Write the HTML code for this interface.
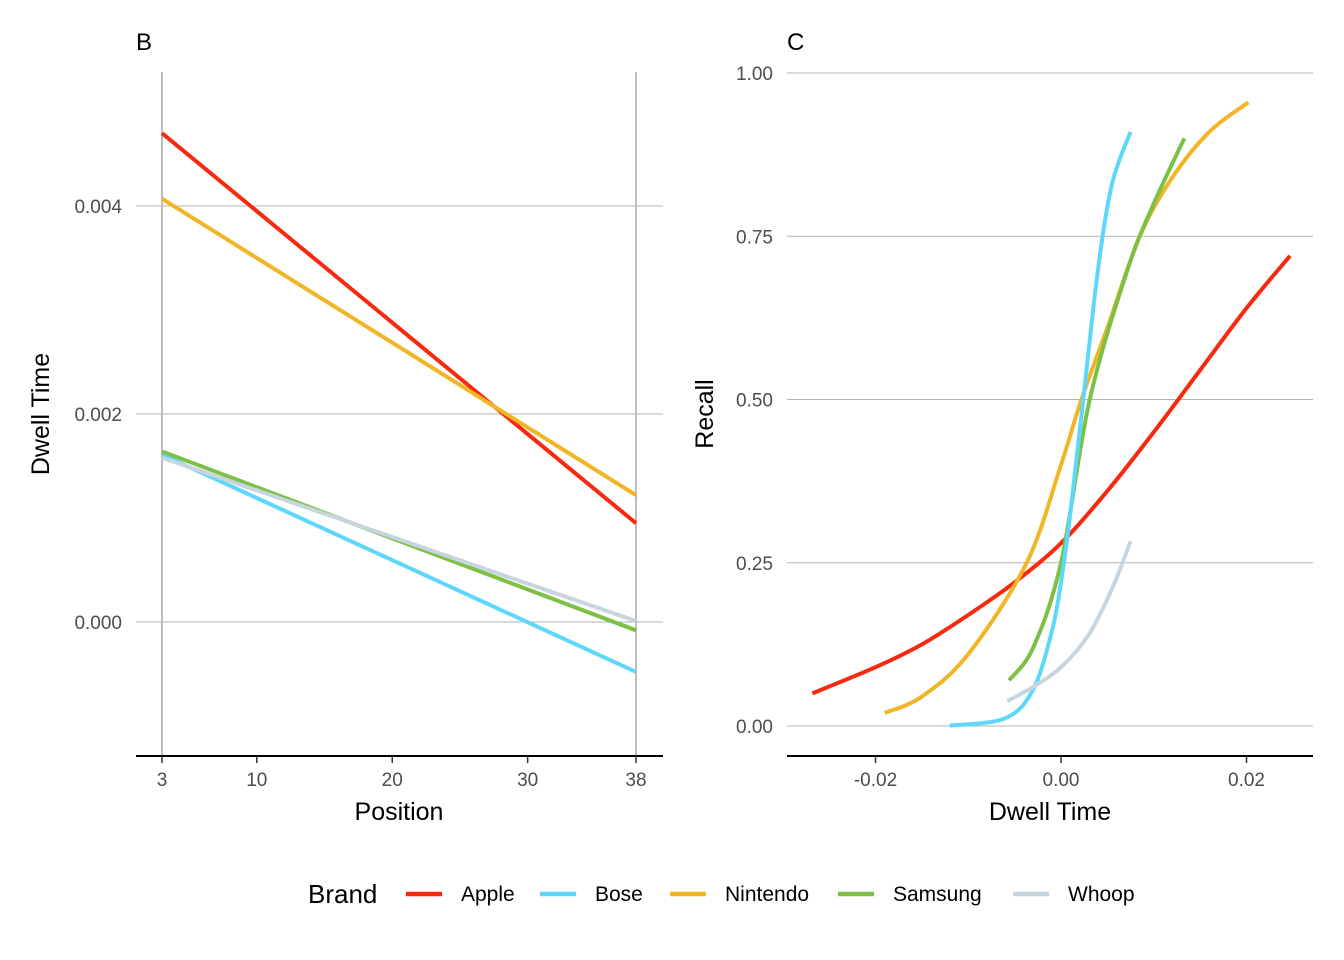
<!DOCTYPE html>
<html><head><meta charset="utf-8"><style>
html,body{margin:0;padding:0;background:#fff}
svg{display:block;font-family:"Liberation Sans",Arial,sans-serif}
</style></head><body>
<svg id="chart" width="1344" height="960" viewBox="0 0 1344 960"></svg>
<script>
const brands = ["Apple","Bose","Nintendo","Samsung","Whoop"];
const colors = ["#F8290E","#5DD8FB","#F0B625","#7CC045","#C7D5DF"];
// Panel B: linear fits, value at position 3 and 38
const posRange = [3, 38];
const dwellStart = [0.0047, 0.00161, 0.00407, 0.00164, 0.00158];
const dwellEnd = [0.00095, -0.00048, 0.00122, -0.00008, 0.00001];
const bXTicks = [3, 10, 20, 30, 38];
const bYTicks = [0.000, 0.002, 0.004];
const bYLabels = ["0.000","0.002","0.004"];
// Panel C: recall curves [dwell, recall]
const curveApple = [[-0.0268,0.05],[-0.02,0.09],[-0.015,0.125],[-0.01,0.17],[-0.005,0.22],[0,0.28],[0.005,0.36],[0.01,0.45],[0.015,0.545],[0.02,0.64],[0.0247,0.72]];
const curveBose = [[-0.012,0.0005],[-0.006,0.012],[-0.003,0.056],[-0.001,0.144],[0,0.22],[0.001,0.325],[0.0024,0.5],[0.004,0.70],[0.0055,0.83],[0.0075,0.91]];
const curveNintendo = [[-0.019,0.02],[-0.015,0.045],[-0.01,0.11],[-0.0037,0.25],[0,0.4],[0.0022,0.5],[0.005,0.61],[0.0085,0.75],[0.012,0.84],[0.016,0.91],[0.0202,0.955]];
const curveSamsung = [[-0.0056,0.07],[-0.003,0.12],[0,0.25],[0.0031,0.5],[0.0072,0.7],[0.01,0.8],[0.0133,0.90]];
const curveWhoop = [[-0.0058,0.038],[-0.003,0.06],[0,0.09],[0.003,0.14],[0.0055,0.21],[0.0075,0.283]];
const cXTicks = [-0.02, 0, 0.02];
const cXLabels = ["-0.02","0.00","0.02"];
const cYTicks = [0, 0.25, 0.5, 0.75, 1];
const cYLabels = ["0.00","0.25","0.50","0.75","1.00"];

const svg = document.getElementById('chart');
const NS = "http://www.w3.org/2000/svg";
function mk(tag, attrs, parent){const e=document.createElementNS(NS,tag);for(const k in attrs)e.setAttribute(k,attrs[k]);(parent||svg).appendChild(e);return e;}

const bx = v => 162 + (v-3)*(474/35);
const by = v => 622 - v*104000;
const cx = v => 1061 + v*9275;
const cy = v => 726 - v*653;

// ---- Panel B ----
const gB = mk('g',{});


bYTicks.forEach((t,i)=>{
  const l=mk('line',{x1:136,x2:663,y1:by(t),y2:by(t),stroke:'#b3b3b3','stroke-width':1},gB);
   
  const tx=mk('text',{x:122,y:by(t)+7,'text-anchor':'end','font-size':19,fill:'#4d4d4d'},gB);
  tx.textContent=bYLabels[i];
   
});
posRange.forEach(p=>{
  const l=mk('line',{x1:bx(p),x2:bx(p),y1:72,y2:756,stroke:'#bdbdbd','stroke-width':2},gB);
   
});
brands.forEach((b,i)=>{
  const l=mk('line',{x1:bx(posRange[0]),y1:by(dwellStart[i]),x2:bx(posRange[1]),y2:by(dwellEnd[i]),stroke:colors[i],'stroke-width':4},gB);
   
});
{const a=mk('line',{x1:136,x2:663,y1:756,y2:756,stroke:'#000','stroke-width':2},gB);
 }
bXTicks.forEach(t=>{
  const l=mk('line',{x1:bx(t),x2:bx(t),y1:756,y2:763,stroke:'#333','stroke-width':1.5},gB);
   
  const tx=mk('text',{x:bx(t),y:786,'text-anchor':'middle','font-size':19,fill:'#4d4d4d'},gB);
  tx.textContent=t;
   
});
{const t=mk('text',{x:399,y:820,'text-anchor':'middle','font-size':25,fill:'#000'},gB);t.textContent='Position';

const t2=mk('text',{x:0,y:0,'text-anchor':'middle','font-size':25,fill:'#000',transform:'translate(49,414) rotate(-90)'},gB);t2.textContent='Dwell Time';

const t3=mk('text',{x:136,y:50,'font-size':24,fill:'#000'},gB);t3.textContent='B';
}

// ---- Panel C ----
const gC = mk('g',{});


cYTicks.forEach((t,i)=>{
  const l=mk('line',{x1:787,x2:1313,y1:cy(t),y2:cy(t),stroke:'#b3b3b3','stroke-width':1},gC);
   
  const tx=mk('text',{x:773,y:cy(t)+7,'text-anchor':'end','font-size':19,fill:'#4d4d4d'},gC);
  tx.textContent=cYLabels[i];
   
});
function smooth(pts){
  let d='M'+pts[0][0]+','+pts[0][1];
  for(let i=0;i<pts.length-1;i++){
    const p0=pts[Math.max(i-1,0)],p1=pts[i],p2=pts[i+1],p3=pts[Math.min(i+2,pts.length-1)];
    const c1=[p1[0]+(p2[0]-p0[0])/6,p1[1]+(p2[1]-p0[1])/6];
    const c2=[p2[0]-(p3[0]-p1[0])/6,p2[1]-(p3[1]-p1[1])/6];
    d+=' C'+c1[0]+','+c1[1]+' '+c2[0]+','+c2[1]+' '+p2[0]+','+p2[1];
  }
  return d;
}
const curves=[curveApple,curveBose,curveNintendo,curveSamsung,curveWhoop];
const drawOrder=[0,2,3,1,4];
drawOrder.forEach(i=>{
  const pts=curves[i].map(p=>[cx(p[0]),cy(p[1])]);
  const p=mk('path',{d:smooth(pts),fill:'none',stroke:colors[i],'stroke-width':4},gC);
   
});
{const a=mk('line',{x1:787,x2:1313,y1:756,y2:756,stroke:'#000','stroke-width':2},gC);
 }
cXTicks.forEach((t,i)=>{
  const l=mk('line',{x1:cx(t),x2:cx(t),y1:756,y2:763,stroke:'#333','stroke-width':1.5},gC);
   
  const tx=mk('text',{x:cx(t),y:786,'text-anchor':'middle','font-size':19,fill:'#4d4d4d'},gC);
  tx.textContent=cXLabels[i];
   
});
{const t=mk('text',{x:1050,y:820,'text-anchor':'middle','font-size':25,fill:'#000'},gC);t.textContent='Dwell Time';

const t2=mk('text',{x:0,y:0,'text-anchor':'middle','font-size':25,fill:'#000',transform:'translate(713,414) rotate(-90)'},gC);t2.textContent='Recall';

const t3=mk('text',{x:787,y:50,'font-size':24,fill:'#000'},gC);t3.textContent='C';
}

// ---- Legend ----
const gL=mk('g',{});


{const t=mk('text',{x:308,y:903,'font-size':26,fill:'#000'},gL);t.textContent='Brand';
}
const keyX=[406,540,670,838,1013];
brands.forEach((b,i)=>{
  const g=mk('g',{},gL);
  
  
  mk('line',{x1:keyX[i],x2:keyX[i]+36,y1:894,y2:894,stroke:colors[i],'stroke-width':4.5},g);
  const t=mk('text',{x:keyX[i]+55,y:901,'font-size':21,fill:'#000'},g);t.textContent=b;
});
</script>
</body></html>
